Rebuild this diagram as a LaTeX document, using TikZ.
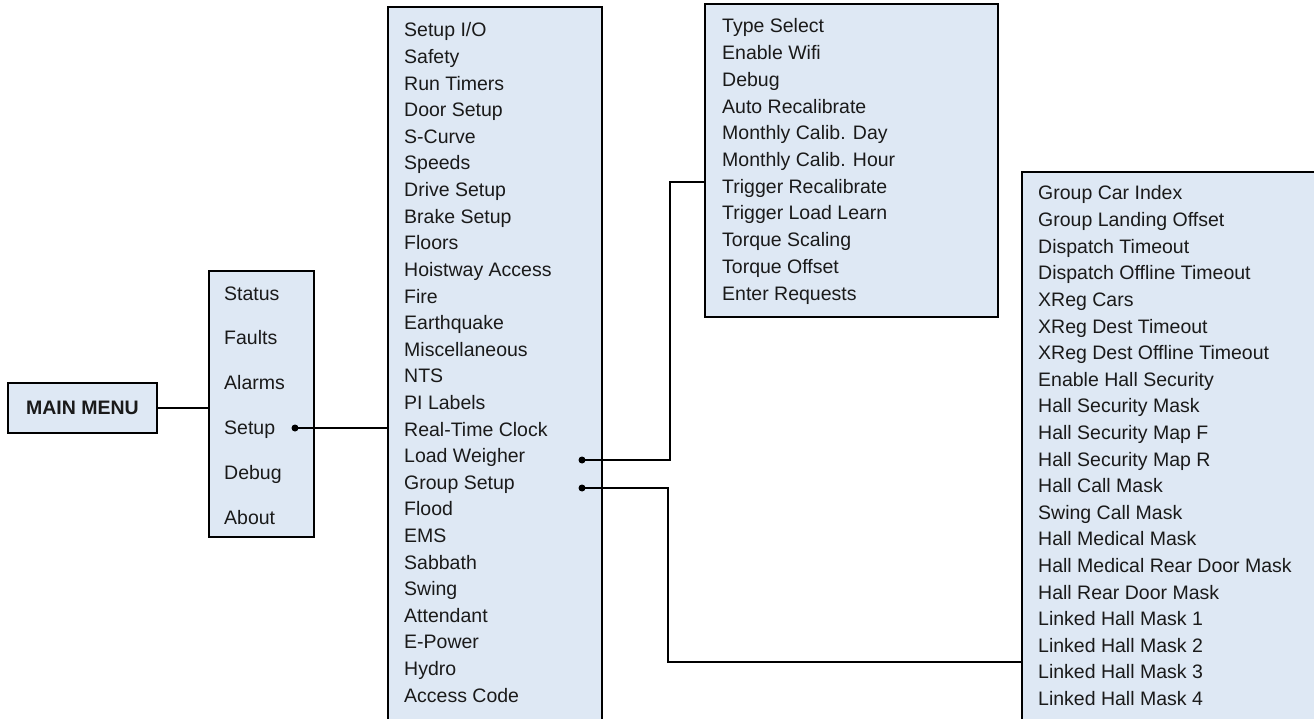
\documentclass[tikz,border=0pt]{standalone}
\usepackage{fontspec}
\setmainfont{Liberation Sans}
\definecolor{boxfill}{HTML}{DEE8F4}
\definecolor{txt}{HTML}{1A1A1A}
\tikzset{
  box/.style={draw=black, line width=2.2pt, fill=boxfill, inner sep=0pt, rectangle},
  item/.style={anchor=base west, inner sep=0pt, text=txt, font=\fontsize{19.5}{23}\selectfont},
  link/.style={line width=1.8pt, draw=black},
  dotnode/.style={circle, fill=black, inner sep=0pt, minimum size=7pt},
}
\begin{document}
\begin{tikzpicture}[x=1pt,y=-1pt]
\useasboundingbox (0,0) rectangle (1314,719);
\clip (0,0) rectangle (1314,719);
% boxes
\node[box, minimum width=149pt, minimum height=50pt, text=txt, font=\fontsize{19.5}{23}\selectfont\bfseries] (mm) at (82.5,408) {MAIN MENU};
\node[box, minimum width=105pt, minimum height=266pt] (menu) at (261.5,404) {};
\node[box, minimum width=214pt, minimum height=723pt] (setup) at (495,368.5) {};
\node[box, minimum width=293pt, minimum height=313pt] (type) at (851.5,160.5) {};
\node[box, minimum width=318pt, minimum height=568pt] (group) at (1181,456) {};
% items
\foreach \t [count=\i from 0] in {Status,Faults,Alarms,Setup,Debug,About}
  \node[item] (m\i) at (224,{293+44.8*\i+7}) {\t};
\foreach \t [count=\i from 0] in {Setup I/O,Safety,Run Timers,Door Setup,S-Curve,Speeds,Drive Setup,Brake Setup,Floors,Hoistway Access,Fire,Earthquake,Miscellaneous,NTS,PI Labels,Real-Time Clock,Load Weigher,Group Setup,Flood,EMS,Sabbath,Swing,Attendant,E-Power,Hydro,Access Code}
  \node[item] (s\i) at (404,{30+26.6*\i+7}) {\t};
\foreach \t [count=\i from 0] in {Type Select,Enable Wifi,Debug,Auto Recalibrate,Monthly Calib. Day,Monthly Calib. Hour,Trigger Recalibrate,Trigger Load Learn,Torque Scaling,Torque Offset,Enter Requests}
  \node[item] (t\i) at (722,{26+26.7*\i+7}) {\t};
\foreach \t [count=\i from 0] in {Group Car Index,Group Landing Offset,Dispatch Timeout,Dispatch Offline Timeout,XReg Cars,XReg Dest Timeout,XReg Dest Offline Timeout,Enable Hall Security,Hall Security Mask,Hall Security Map F,Hall Security Map R,Hall Call Mask,Swing Call Mask,Hall Medical Mask,Hall Medical Rear Door Mask,Hall Rear Door Mask,Linked Hall Mask 1,Linked Hall Mask 2,Linked Hall Mask 3,Linked Hall Mask 4}
  \node[item] (g\i) at (1038,{193+26.6*\i+7}) {\t};
% dots
\node[dotnode] (d1) at (295,428) {};
\node[dotnode] (d2) at (582,460) {};
\node[dotnode] (d3) at (582,488) {};
\coordinate (c1) at (670,182);
\coordinate (c2) at (668,662);
% connectors
\draw[link] (mm.east) -- (mm.east -| menu.west);
\draw[link] (d1.center) -- (d1 -| setup.west);
\draw[link] (d2.center) -| (c1) -- (c1 -| type.west);
\draw[link] (d3.center) -| (c2) -- (c2 -| group.west);
\end{tikzpicture}
\end{document}
